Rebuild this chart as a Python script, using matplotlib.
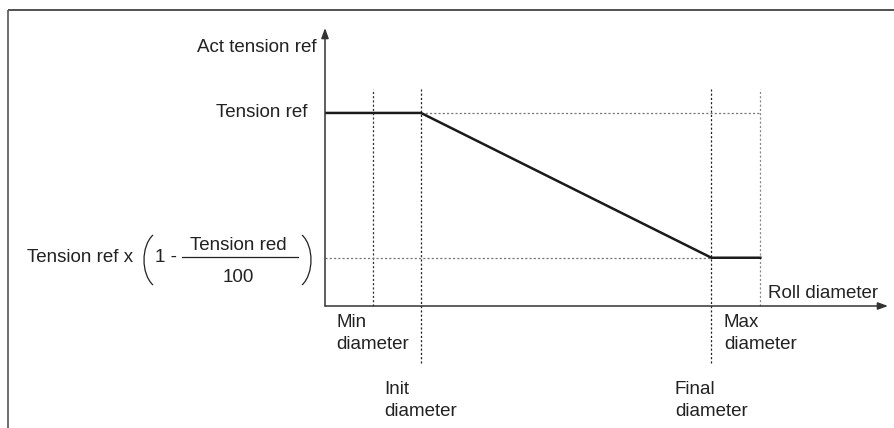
import matplotlib
matplotlib.use("Agg")
import matplotlib.pyplot as plt
from matplotlib.path import Path
from matplotlib.patches import PathPatch

plt.rcParams['font.family'] = ['Liberation Sans', 'DejaVu Sans']
FS = 13.5

# diameter marks along the x axis (arbitrary units)
diam_labels = ["Min\ndiameter", "Init\ndiameter", "Final\ndiameter", "Max\ndiameter"]
diam_values = [1.0, 2.0, 8.05, 9.07]
diam_label_drop = [8, 75, 75, 8]      # px below the x axis where the label starts
diam_line_drop = [0, 57, 57, 0]       # px the dotted line goes below the x axis

# tension (percent of tension ref)
tension_ref = 100
tension_red = 75
tension_low = tension_ref * (1 - tension_red / 100)
curve_x = [0, diam_values[1], diam_values[2], diam_values[3]]
curve_y = [tension_ref, tension_ref, tension_low, tension_low]

x_end = 11.73
y_end = 144.0
v_top = 112.4

W, H = 894, 428
fig = plt.figure(figsize=(W / 100, H / 100), dpi=100)

# overlay in pixel coords for frame and formula
ov = fig.add_axes([0, 0, 1, 1])
ov.set_xlim(0, W)
ov.set_ylim(H, 0)
ov.axis("off")

ax = fig.add_axes([325 / W, (H - 306) / H, (888 - 325) / W, (306 - 28) / H])
ax.set_xlim(0, x_end)
ax.set_ylim(0, y_end)
ax.axis("off")

px = 0.72  # pixel -> points

# frame (top and left only)
ov.plot([8, W], [10, 10], color="#333333", lw=1.2, solid_capstyle="butt")
ov.plot([8, 8], [10, H], color="#555555", lw=1.2, solid_capstyle="butt")

# axes with arrows
arrow = dict(arrowstyle="-|>,head_length=0.6,head_width=0.22", color="#333333",
             lw=1.1, shrinkA=0, shrinkB=0, mutation_scale=10)
ax.annotate("", xy=(x_end, 0), xytext=(0, 0), arrowprops=arrow, annotation_clip=False)
ax.annotate("", xy=(0, y_end), xytext=(0, 0), arrowprops=arrow, annotation_clip=False)

# dotted guide lines
dots = (0, (1.7, 1.7))
line_colors = ["#333333", "#222222", "#222222", "#888888"]
for xv, drop, c in zip(diam_values, diam_line_drop, line_colors):
    ax.plot([xv, xv], [-drop / 1.93, v_top], color=c, lw=0.9, ls=dots, clip_on=False)
ax.plot([diam_values[1], diam_values[3]], [tension_ref, tension_ref], color="#777777", lw=0.9, ls=dots)
ax.plot([0, diam_values[2]], [tension_low, tension_low], color="#777777", lw=0.9, ls=dots)

# tension curve
ax.plot(curve_x, curve_y, color="#1a1a1a", lw=1.8, solid_joinstyle="miter")

# labels
ax.annotate("Act tension ref", xy=(0, y_end), xytext=(-8 * px, -19 * px),
            textcoords="offset points", ha="right", va="center", fontsize=FS, color="#222222")
ax.annotate("Tension ref", xy=(0, tension_ref), xytext=(-18 * px, 0),
            textcoords="offset points", ha="right", va="center", fontsize=FS, color="#222222")
ax.annotate("Roll diameter", xy=(diam_values[3], 0), xytext=(8 * px, 13 * px),
            textcoords="offset points", ha="left", va="center", fontsize=FS, color="#222222")
for lab, xv, drop in zip(diam_labels, diam_values, diam_label_drop):
    ax.annotate(lab, xy=(xv, 0), xytext=(0, -drop * px), textcoords="offset points",
                ha="center", va="top", multialignment="left", fontsize=FS,
                color="#222222", linespacing=1.38)

# formula: Tension ref x (1 - Tension red / 100)
ov.text(133, 257, "Tension ref x", ha="right", va="center", fontsize=FS, color="#222222")
ov.text(155, 257, "1 -", ha="left", va="center", fontsize=FS, color="#222222")
ov.plot([182, 298], [257, 257], color="#222222", lw=0.9)
ov.text(238, 245, "Tension red", ha="center", va="center", fontsize=FS, color="#222222")
ov.text(238, 278, "100", ha="center", va="center", fontsize=FS, color="#222222")
codes = [Path.MOVETO, Path.CURVE4, Path.CURVE4, Path.CURVE4]
lpar = Path([(153, 235), (141, 246), (141, 274), (153, 285)], codes)
rpar = Path([(302, 235), (314, 246), (314, 274), (302, 285)], codes)
for p in (lpar, rpar):
    ov.add_patch(PathPatch(p, fill=False, edgecolor="#222222", lw=0.9))

fig.savefig("out.png", dpi=100)
